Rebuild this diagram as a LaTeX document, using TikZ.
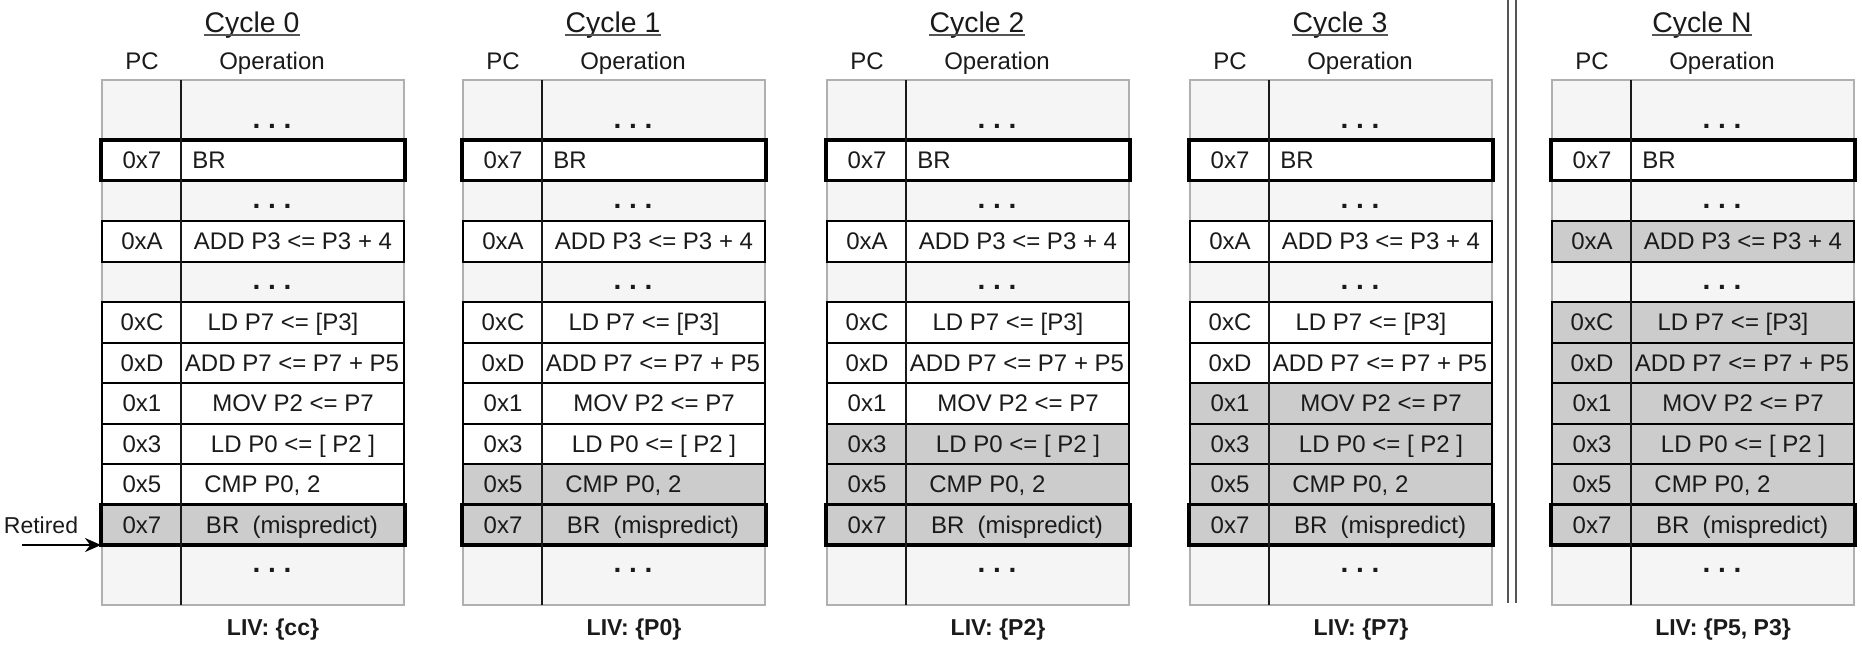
\documentclass[tikz,border=0pt]{standalone}
\usepackage{fontspec}
\setmainfont{Liberation Sans}
\usetikzlibrary{arrows.meta}

\definecolor{cellbg}{HTML}{F5F5F5}
\definecolor{hl}{HTML}{CCCCCC}
\definecolor{framegray}{HTML}{B0B0B0}
\definecolor{rulegray}{HTML}{555555}
\definecolor{ink}{HTML}{1A1A1A}

\tikzset{
  tableframe/.style={fill=cellbg, draw=framegray, line width=1pt},
  coldivider/.style={draw=ink, line width=0.9pt},
  rowbox/.style={draw=black, line width=1pt},
  brbox/.style={draw=black, line width=1.6pt},
  txt/.style={inner sep=0pt, anchor=base, text=ink, font=\fontsize{12}{14}\selectfont},
  titletxt/.style={txt, font=\fontsize{14.2}{16}\selectfont},
  livtxt/.style={txt, font=\fontsize{11.5}{14}\selectfont\bfseries},
  dotstxt/.style={txt, font=\fontsize{14}{14}\selectfont\bfseries\frenchspacing},
  labeltxt/.style={txt, font=\fontsize{11.5}{14}\selectfont},
  uline/.style={draw=rulegray, line width=0.9pt},
  panelsep/.style={draw=rulegray, line width=1.2pt},
  retarrow/.style={draw=black, line width=1pt, -{Stealth[length=8pt,width=7pt]}},
}

% one instruction row of the window:
% #1 row index, #2 PC, #3 operation, #4 x of operation text, #5 its anchor,
% #6 box style, #7 outward overhang of the box
\newcommand\oprow[7]{%
  \pgfmathsetmacro\rtop{140+(#1-1)*40.5}%
  \pgfmathsetmacro\rbot{\rtop+40.5}%
  \pgfmathsetmacro\rbase{\rtop+20.25+8.5}%
  \ifnum#1<\hlfrom\relax\def\rfill{white}\else\def\rfill{hl}\fi
  \path[#6, fill=\rfill] (-#7,\rtop) rectangle (302+#7,\rbot);
  \node[txt] (\pname-pc#1) at (40,\rbase) {#2};
  \node[txt, anchor=#5] (\pname-op#1) at (#4,\rbase) {#3};
  \coordinate (\pname-sw#1) at (-#7,\rbot);
}

% one cycle snapshot: #1 name, #2 left x, #3 title, #4 live-in set,
% #5 first row index that is shaded
\newcommand\cyclepanel[5]{%
  \def\pname{#1}\def\hlfrom{#5}%
  \begin{scope}[shift={(#2,0)}]
    \path[tableframe] (0,80) rectangle (302,605);
    \node[titletxt] (#1-title) at (150,32) {#3};
    \path[uline] ([yshift=-1.5pt]#1-title.base west) -- ([yshift=-1.5pt]#1-title.base east);
    \node[txt] (#1-pchead) at (40,69) {PC};
    \node[txt] (#1-ophead) at (170,69) {Operation};
    \node[dotstxt] (#1-gap0) at (170,128) {. . .};
    \node[dotstxt] (#1-gap2) at (170,208) {. . .};
    \node[dotstxt] (#1-gap4) at (170,289) {. . .};
    \node[dotstxt] (#1-gap11) at (170,572) {. . .};
    \oprow{1}{0x7}{BR}{90}{base west}{brbox}{1}
    \oprow{3}{0xA}{ADD P3 <= P3 + 4}{191}{base}{rowbox}{0}
    \oprow{5}{0xC}{LD P7 <= [P3]}{181}{base}{rowbox}{0}
    \oprow{6}{0xD}{ADD P7 <= P7 + P5}{190}{base}{rowbox}{0}
    \oprow{7}{0x1}{MOV P2 <= P7}{191}{base}{rowbox}{0}
    \oprow{8}{0x3}{LD P0 <= [ P2 ]}{191}{base}{rowbox}{0}
    \oprow{9}{0x5}{CMP P0, 2}{102}{base west}{rowbox}{0}
    \oprow{10}{0x7}{BR\ \ (mispredict)}{190}{base}{brbox}{1}
    \draw[coldivider] (79,80) -- (79,605);
    \node[livtxt] (#1-liv) at (171,635) {LIV: #4};
  \end{scope}}

\begin{document}
\begin{tikzpicture}[x=0.5pt,y=-0.5pt]
  \useasboundingbox (0,0) rectangle (1862,649);
  \cyclepanel{c0}{102}{Cycle 0}{\{cc\}}{10}
  \cyclepanel{c1}{463}{Cycle 1}{\{P0\}}{9}
  \cyclepanel{c2}{827}{Cycle 2}{\{P2\}}{8}
  \cyclepanel{c3}{1190}{Cycle 3}{\{P7\}}{7}
  \cyclepanel{cn}{1552}{Cycle N}{\{P5, P3\}}{3}
  % separator before the final snapshot
  \draw[panelsep] (1508,0) -- (1508,603);
  \draw[panelsep] (1516,0) -- (1516,603);
  % retirement pointer
  \node[labeltxt] (retired) at (41,533) {Retired};
  \coordinate (retired-tail) at (22,545);
  \draw[retarrow] (retired-tail) -- (c0-sw10);
\end{tikzpicture}
\end{document}
